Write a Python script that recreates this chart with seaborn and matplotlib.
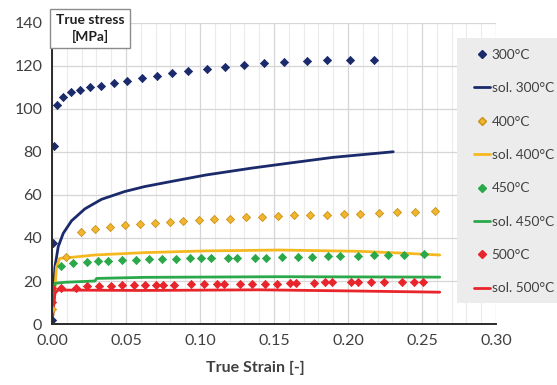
import numpy as np
import pandas as pd
import matplotlib
matplotlib.use("Agg")
import matplotlib.pyplot as plt
from matplotlib.lines import Line2D
from matplotlib.patches import Rectangle
import seaborn as sns

# Measured points (strain, stress in MPa)
strain_300 = [0, 0.0005, 0.001, 0.0036, 0.0076, 0.0128, 0.0189, 0.0257, 0.0333, 0.0417,
              0.0507, 0.0608, 0.0707, 0.0813, 0.0921, 0.1045, 0.117, 0.1295, 0.1432,
              0.157, 0.1723, 0.186, 0.2016, 0.2176]
stress_300 = [1.7, 37.5, 83, 101.7, 105.4, 107.9, 108.8, 110, 110.9, 112.1, 113.2, 114.3,
              115.3, 116.6, 117.5, 118.8, 119.7, 120.6, 121.2, 121.9, 122.3, 122.6, 122.8, 122.8]

strain_400 = [0, 0.0095, 0.0196, 0.0291, 0.0394, 0.0495, 0.0595, 0.0698, 0.0797, 0.0887,
              0.0993, 0.1097, 0.1203, 0.1311, 0.1417, 0.1525, 0.1637, 0.1745, 0.1858,
              0.1975, 0.2081, 0.2211, 0.2331, 0.2455, 0.2588]
stress_400 = [7.0, 31.0, 42.6, 44.2, 45.3, 46.0, 46.7, 47.0, 47.6, 47.9, 48.2, 48.7, 49.0,
              49.6, 49.6, 50.0, 50.7, 50.7, 50.8, 51.0, 51.2, 51.8, 51.9, 52.2, 52.7]

strain_450 = [0.0061, 0.0144, 0.0234, 0.0309, 0.0376, 0.0473, 0.0568, 0.0655, 0.0743,
              0.0836, 0.0935, 0.1009, 0.1077, 0.1187, 0.1248, 0.1374, 0.1446, 0.1552,
              0.1664, 0.1754, 0.1863, 0.1946, 0.2070, 0.2178, 0.2273, 0.2381, 0.2516]
stress_450 = [27.0, 28.2, 28.8, 29.3, 29.3, 29.6, 29.9, 30.2, 30.2, 30.4, 30.5, 30.8, 30.7,
              30.7, 30.7, 30.7, 30.8, 31.0, 31.3, 31.3, 31.6, 31.6, 31.8, 32.1, 32.1, 32.2, 32.6]

strain_500 = [0, 0.0002, 0.0061, 0.0162, 0.0239, 0.032, 0.0399, 0.0473, 0.0554, 0.063,
              0.0705, 0.075, 0.0827, 0.0939, 0.1025, 0.1113, 0.1162, 0.127, 0.1354, 0.1439,
              0.1522, 0.1608, 0.1649, 0.1773, 0.1847, 0.1892, 0.2018, 0.207, 0.2154, 0.2243,
              0.2367, 0.2448, 0.2509]
stress_500 = [10.1, 16.9, 16.9, 16.9, 17.7, 17.7, 17.7, 18.0, 18.0, 18.3, 18.3, 18.3, 18.3,
              18.4, 18.4, 18.6, 18.6, 18.6, 18.6, 18.6, 18.7, 19.2, 19.2, 19.2, 19.4, 19.4,
              19.4, 19.4, 19.4, 19.4, 19.5, 19.5, 19.5]

# Simulated (solution) curves
sol_strain_300 = [0, 0.0005, 0.002, 0.0042, 0.0076, 0.0132, 0.0223, 0.0335, 0.0491, 0.0625,
                  0.0815, 0.104, 0.135, 0.16, 0.19, 0.2306]
sol_stress_300 = [0, 12, 26.7, 36, 42.2, 48.0, 53.6, 58.0, 61.6, 63.9, 66.4, 69.3, 72.5,
                  74.8, 77.5, 80.1]

sol_strain_400 = [0, 0.0015, 0.003, 0.0052, 0.0131, 0.029, 0.0625, 0.104, 0.154, 0.208, 0.235, 0.262]
sol_stress_400 = [0, 12, 26.7, 30.5, 31.0, 32.1, 33.2, 34.0, 34.4, 33.8, 33.0, 32.1]

sol_strain_450 = [0, 0.001, 0.002, 0.0085, 0.029, 0.0301, 0.0625, 0.154, 0.262]
sol_stress_450 = [0, 10, 18.9, 19.4, 20.0, 21.2, 21.7, 22.0, 21.8]

sol_strain_500 = [0, 0.001, 0.002, 0.004, 0.06, 0.14, 0.2, 0.262]
sol_stress_500 = [0, 8, 14.3, 15.8, 15.6, 15.9, 15.4, 14.8]

temps = ["300°C", "400°C", "450°C", "500°C"]
line_colors = ["#1b2a6b", "#f5b820", "#2ba84a", "#e8252b"]
marker_face = ["#1b2a6b", "#f2b62c", "#2ba84a", "#e8252b"]
marker_edge = ["#1b2a6b", "#c8921c", "#2ba84a", "#e8252b"]

measured = pd.concat([
    pd.DataFrame({"strain": s, "stress": t, "temp": lab})
    for s, t, lab in [(strain_300, stress_300, temps[0]), (strain_400, stress_400, temps[1]),
                      (strain_450, stress_450, temps[2]), (strain_500, stress_500, temps[3])]
], ignore_index=True)
solution = pd.concat([
    pd.DataFrame({"strain": s, "stress": t, "temp": lab})
    for s, t, lab in [(sol_strain_300, sol_stress_300, temps[0]), (sol_strain_400, sol_stress_400, temps[1]),
                      (sol_strain_450, sol_stress_450, temps[2]), (sol_strain_500, sol_stress_500, temps[3])]
], ignore_index=True)

sns.set_theme(style="white")
plt.rcParams["font.family"] = ["Lato", "DejaVu Sans"]
text_col = "#404040"

fig = plt.figure(figsize=(5.57, 3.85), dpi=100)
ax = fig.add_axes([0.0934, 0.1584, 0.797, 0.782])

for i, lab in enumerate(temps):
    sub = solution[solution["temp"] == lab]
    sns.lineplot(data=sub, x="strain", y="stress", ax=ax, color=line_colors[i],
                 linewidth=2.0, sort=False, estimator=None, legend=False, zorder=3)
for i, lab in enumerate(temps):
    sub = measured[measured["temp"] == lab]
    sns.scatterplot(data=sub, x="strain", y="stress", ax=ax, marker="D", s=17,
                    color=marker_face[i], edgecolor=marker_edge[i], linewidth=0.6,
                    legend=False, zorder=4)

ax.set_xlim(0, 0.30)
ax.set_ylim(0, 140)
ax.set_xticks(np.arange(0, 0.301, 0.05))
ax.set_xticks(np.arange(0, 0.301, 0.01), minor=True)
ax.set_yticks(np.arange(0, 141, 20))
ax.set_xticklabels([f"{v:.2f}" for v in np.arange(0, 0.301, 0.05)])
ax.grid(which="minor", axis="x", color="#ebebeb", linewidth=0.8, zorder=0)
ax.grid(which="major", axis="x", color="#d6d6d6", linewidth=0.9, zorder=0)
ax.grid(which="major", axis="y", color="#d6d6d6", linewidth=0.9, zorder=0)
ax.set_axisbelow(True)

for side in ["top", "right"]:
    ax.spines[side].set_visible(False)
for side in ["left", "bottom"]:
    ax.spines[side].set_color("#2b2b2b")
    ax.spines[side].set_linewidth(1.4)
    ax.spines[side].set_zorder(5)

ax.tick_params(axis="both", which="major", direction="inout", length=8, width=1.2,
               color="#2b2b2b", labelsize=11.5, labelcolor=text_col, pad=3)
ax.tick_params(axis="x", which="minor", length=0)
ax.set_xlabel("True Strain [-]", fontsize=11.5, fontweight="bold", color=text_col)
ax.xaxis.set_label_coords(0.459, -0.122)
ax.xaxis.label.set_va("top")
ax.set_ylabel("")

# stress label box above the y axis
fig.text(0.1616, 0.926, "True stress\n[MPa]", ha="center", va="center", fontsize=10,
         fontweight="bold", color="#202020", linespacing=1.3, multialignment="center",
         zorder=10,
         bbox=dict(boxstyle="square,pad=0.4", facecolor="white", edgecolor="#8c8c8c", linewidth=1.0))

# legend panel
fig.patches.append(Rectangle((457 / 557, 1 - 303 / 385), 100 / 557, 265 / 385,
                             transform=fig.transFigure, facecolor="#ececec",
                             edgecolor="none", zorder=6))
handles, labels = [], []
for i, lab in enumerate(temps):
    handles.append(Line2D([], [], linestyle="none", marker="D", markersize=4,
                          markerfacecolor=marker_face[i], markeredgecolor=marker_edge[i]))
    labels.append(lab)
    handles.append(Line2D([], [], color=line_colors[i], linewidth=2.0))
    labels.append("sol. " + lab)
leg = fig.legend(handles, labels, loc="upper left", bbox_to_anchor=(467 / 557, 1 - 42 / 385),
                 frameon=False, fontsize=9.8, labelspacing=1.57, handlelength=1.2,
                 handletextpad=0.1, borderpad=0, labelcolor=text_col)
leg.set_zorder(7)

fig.savefig("out.png", dpi=100)
